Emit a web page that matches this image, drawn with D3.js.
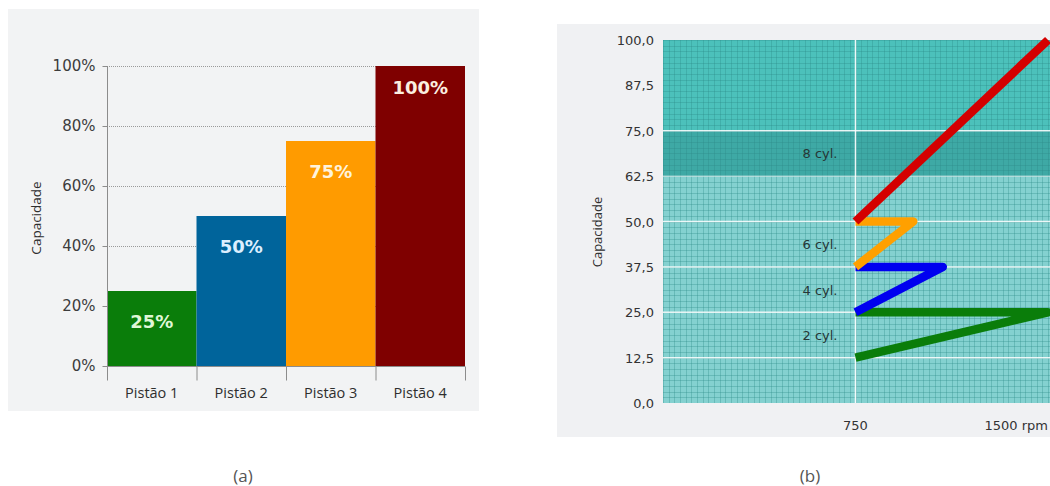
<!DOCTYPE html>
<html><head><meta charset="utf-8">
<script src="https://cdn.jsdelivr.net/npm/d3@7"></script>
<style>
html,body{margin:0;padding:0;background:#fff;}
svg{display:block;}
</style></head>
<body>
<svg id="c" width="1050" height="486"></svg>
<script>
// ---- Data (a) ----
const pistons = ["Pistão 1", "Pistão 2", "Pistão 3", "Pistão 4"];
const capacity = [25, 50, 75, 100];
const barColors = ["#0a7d0a", "#00649b", "#ff9b00", "#7f0000"];
const labelColors = ["#dff7d6", "#dcefff", "#fff3dc", "#fbefe0"];
const yTicksA = [0, 20, 40, 60, 80, 100];

// ---- Data (b) ----
const yTicksB = [0, 12.5, 25, 37.5, 50, 62.5, 75, 87.5, 100];
const xTicksB = [750, 1500];
const xTickLabelsB = ["750", "1500 rpm"];
const bands = [
  {from: 0, to: 62.5, color: "#84d1d0"},
  {from: 62.5, to: 75, color: "#3ea9a5"},
  {from: 75, to: 100, color: "#4cc1bb"}
];
const cylSeries = [
  {name: "2 cyl.", color: "#0a7d0a", rpm: [750, 1500, 750], cap: [12.5, 25, 25]},
  {name: "4 cyl.", color: "#0000f0", rpm: [750, 1090, 750], cap: [25, 37.5, 37.5]},
  {name: "6 cyl.", color: "#ffa000", rpm: [750, 975, 750], cap: [37.5, 50, 50]},
  {name: "8 cyl.", color: "#d40000", rpm: [750, 1500], cap: [50, 100]}
];
const cylLabels = ["2 cyl.", "4 cyl.", "6 cyl.", "8 cyl."];
const cylLabelCap = [18.75, 31.25, 43.75, 68.75];

const svg = d3.select("#c");

// ================= Panel (a) =================
svg.append("rect").attr("x", 8).attr("y", 9).attr("width", 471).attr("height", 402).attr("fill", "#f2f3f4");

const ax = {l: 107, r: 465, t: 66, b: 366};
const xA = d3.scaleBand().domain(pistons).range([ax.l, ax.r]).padding(0);
const yA = d3.scaleLinear().domain([0, 100]).range([ax.b, ax.t]);

const gA = svg.append("g");
gA.selectAll("line.grid").data(yTicksA.filter(d => d > 0)).join("line")
  .attr("x1", ax.l).attr("x2", ax.r)
  .attr("y1", d => yA(d) + 0.5).attr("y2", d => yA(d) + 0.5)
  .attr("stroke", "#9a9a9a").attr("stroke-width", 1).attr("stroke-dasharray", "1,1");

gA.selectAll("rect.bar").data(capacity).join("rect")
  .attr("x", (d, i) => xA(pistons[i]))
  .attr("y", d => yA(d))
  .attr("width", xA.bandwidth())
  .attr("height", d => yA(0) - yA(d))
  .attr("fill", (d, i) => barColors[i]);

gA.selectAll("text.bl").data(capacity).join("text")
  .attr("x", (d, i) => xA(pistons[i]) + xA.bandwidth() / 2)
  .attr("y", (d, i) => yA(d) + (i === 3 ? 28 : 37))
  .attr("text-anchor", "middle")
  .attr("font-family", "DejaVu Sans, Verdana, sans-serif")
  .attr("font-weight", "bold")
  .attr("font-size", 18)
  .attr("fill", (d, i) => labelColors[i])
  .text(d => d + "%");

const yAxisA = d3.axisLeft(yA).tickValues(yTicksA).tickFormat(d => d + "%").tickSize(5).tickSizeOuter(0);
const gya = gA.append("g").attr("transform", `translate(${ax.l + 0.5},0)`).call(yAxisA);
gya.select(".domain").attr("stroke", "#8c8c8c").attr("d", `M0,${ax.t}V${ax.b + 14}`);
gya.selectAll(".tick line").attr("stroke", "#8c8c8c");
gya.selectAll(".tick text").attr("font-family", "DejaVu Sans, Verdana, sans-serif").attr("font-size", 15).attr("fill", "#3c3c3c").attr("x", -12);

const gxa = gA.append("g").attr("transform", `translate(0,${ax.b + 0.5})`);
gxa.append("line").attr("x1", ax.l).attr("x2", ax.r).attr("stroke", "#8c8c8c");
const bounds = pistons.map(p => xA(p)).concat([ax.r]);
gxa.selectAll("line.t").data(bounds).join("line")
  .attr("x1", d => d + 0.5).attr("x2", d => d + 0.5).attr("y1", 0).attr("y2", 14)
  .attr("stroke", "#8c8c8c");
gxa.selectAll("text").data(pistons).join("text")
  .attr("x", d => xA(d) + xA.bandwidth() / 2)
  .attr("y", 31)
  .attr("text-anchor", "middle")
  .attr("font-family", "Open Sans, Noto Sans, sans-serif")
  .attr("font-size", 14.5)
  .attr("fill", "#2e2e2e")
  .text(d => d);

gA.append("text")
  .attr("transform", `translate(41,${(ax.t + ax.b) / 2 + 2}) rotate(-90)`)
  .attr("text-anchor", "middle")
  .attr("font-family", "Open Sans, Noto Sans, sans-serif")
  .attr("font-size", 13.5)
  .attr("fill", "#2e2e2e")
  .text("Capacidade");

svg.append("text").attr("x", 243).attr("y", 482).attr("text-anchor", "middle")
  .attr("font-family", "Open Sans, Noto Sans, sans-serif").attr("font-size", 17).attr("fill", "#555").text("(a)");

// ================= Panel (b) =================
svg.append("rect").attr("x", 557).attr("y", 24).attr("width", 493).attr("height", 413).attr("fill", "#f0f1f3");

const bx = {l: 663, r: 1048, t: 40, b: 403};
const xB = d3.scaleLinear().domain([0, 1500]).range([bx.l, bx.r]);
const yB = d3.scaleLinear().domain([0, 100]).range([bx.b, bx.t]);

const gB = svg.append("g");
const defs = svg.append("defs");
defs.append("clipPath").attr("id", "clipB").append("rect")
  .attr("x", bx.l).attr("y", bx.t - 6).attr("width", bx.r - bx.l + 2).attr("height", bx.b - bx.t + 6);
defs.append("clipPath").attr("id", "clipG").append("rect")
  .attr("x", bx.l).attr("y", bx.t).attr("width", bx.r - bx.l + 2).attr("height", bx.b - bx.t);

gB.selectAll("rect.band").data(bands).join("rect")
  .attr("x", bx.l).attr("width", bx.r - bx.l + 2)
  .attr("y", d => yB(d.to)).attr("height", d => yB(d.from) - yB(d.to))
  .attr("fill", d => d.color);

const gridG = gB.append("g").attr("clip-path", "url(#clipG)");
const minorY = d3.range(0, 100.001, 12.5 / 8);
const minorX = d3.range(0, 1500.001, 750 / 34);
gridG.selectAll("line.my").data(minorY).join("line")
  .attr("x1", bx.l).attr("x2", bx.r + 2)
  .attr("y1", d => Math.round(yB(d)) + 0.5).attr("y2", d => Math.round(yB(d)) + 0.5)
  .attr("stroke", "#2a8a87").attr("stroke-opacity", 0.32).attr("stroke-width", 1);
gridG.selectAll("line.mx").data(minorX).join("line")
  .attr("y1", bx.t).attr("y2", bx.b)
  .attr("x1", d => Math.round(xB(d)) + 0.5).attr("x2", d => Math.round(xB(d)) + 0.5)
  .attr("stroke", "#2a8a87").attr("stroke-opacity", 0.32).attr("stroke-width", 1);

gridG.selectAll("line.My").data(yTicksB.filter(d => d > 0 && d < 100 && d !== 87.5)).join("line")
  .attr("x1", bx.l).attr("x2", bx.r + 2)
  .attr("y1", d => yB(d)).attr("y2", d => yB(d))
  .attr("stroke", "#ffffff").attr("stroke-opacity", d => d === 62.5 ? 0.5 : 0.85).attr("stroke-width", 1.5);
gridG.append("line")
  .attr("x1", xB(750)).attr("x2", xB(750)).attr("y1", bx.t).attr("y2", bx.b)
  .attr("stroke", "#ffffff").attr("stroke-opacity", 0.9).attr("stroke-width", 1.5);

gB.selectAll("text.cyl").data(cylLabels).join("text")
  .attr("x", xB(750) - 18)
  .attr("y", (d, i) => yB(cylLabelCap[i]) + 5)
  .attr("text-anchor", "end")
  .attr("font-family", "DejaVu Sans, Verdana, sans-serif")
  .attr("font-size", 13)
  .attr("fill", "#263636")
  .text(d => d);

const lineGen = d3.line().x(d => xB(d[0])).y(d => yB(d[1]));
const lineG = gB.append("g").attr("clip-path", "url(#clipB)");
lineG.selectAll("path.cyl").data(cylSeries).join("path")
  .attr("d", s => lineGen(s.rpm.map((r, i) => [r, s.cap[i]])))
  .attr("fill", "none")
  .attr("stroke", s => s.color)
  .attr("stroke-width", 8.5)
  .attr("stroke-linejoin", "round")
  .attr("stroke-linecap", "butt");

gB.selectAll("text.yt").data(yTicksB).join("text")
  .attr("x", bx.l - 9)
  .attr("y", d => yB(d) + 5)
  .attr("text-anchor", "end")
  .attr("font-family", "DejaVu Sans, Verdana, sans-serif")
  .attr("font-size", 13)
  .attr("fill", "#333")
  .text(d => d3.format(".1f")(d).replace(".", ","));

gB.selectAll("text.xt").data(xTicksB).join("text")
  .attr("x", d => xB(d))
  .attr("y", 430)
  .attr("text-anchor", (d, i) => i === 1 ? "end" : "middle")
  .attr("font-family", "DejaVu Sans, Verdana, sans-serif")
  .attr("font-size", 13)
  .attr("fill", "#333")
  .text((d, i) => xTickLabelsB[i]);

gB.append("text")
  .attr("transform", `translate(602,232) rotate(-90)`)
  .attr("text-anchor", "middle")
  .attr("font-family", "Open Sans, Noto Sans, sans-serif")
  .attr("font-size", 13)
  .attr("fill", "#2e2e2e")
  .text("Capacidade");

svg.append("text").attr("x", 810).attr("y", 482).attr("text-anchor", "middle")
  .attr("font-family", "Open Sans, Noto Sans, sans-serif").attr("font-size", 17).attr("fill", "#555").text("(b)");
</script>
</body></html>
